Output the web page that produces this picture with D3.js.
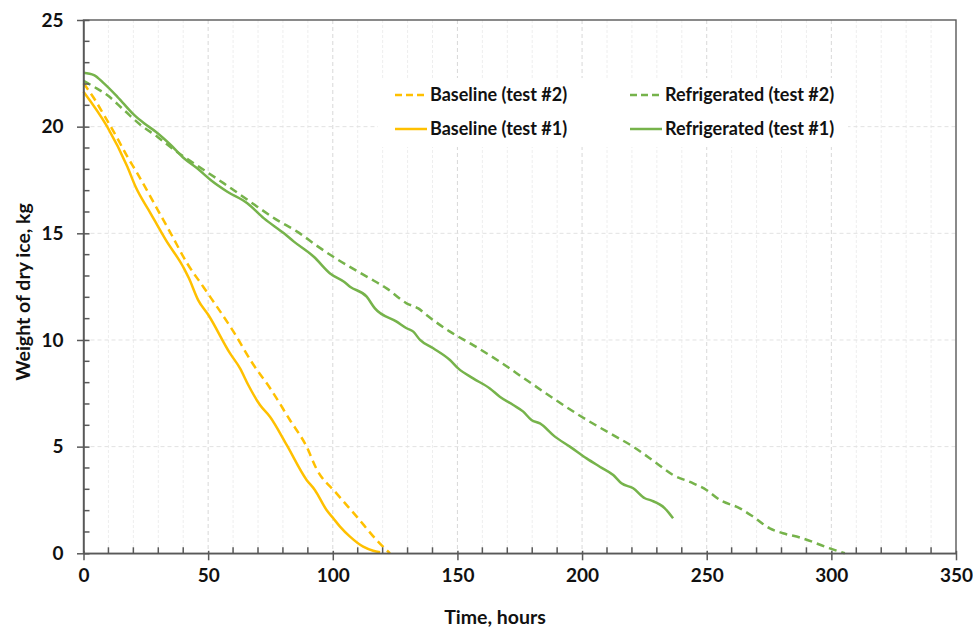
<!DOCTYPE html>
<html>
<head>
<meta charset="utf-8">
<script src="https://cdn.jsdelivr.net/npm/d3@7"></script>
<style>
  html, body { margin: 0; padding: 0; background: #fff; }
  svg { display: block; font-family: Lato, "Open Sans", sans-serif; font-weight: 700; }
</style>
</head>
<body>
<svg id="chart" width="973" height="628"></svg>
<script>
// Dry-ice sublimation: weight over time, two baseline and two refrigerated tests
const baselineTest1Hours = [0, 9.5, 17.6, 20.9, 26.9, 33, 40.3, 42.3, 46, 50.1, 58.8, 62.8, 66.1, 70.8, 74.8, 81.5, 89.5, 92.8, 97.5, 100.2, 102.9, 106.9, 112.2, 116.2, 119];
const baselineTest1Weight = [21.64, 20.0, 18.12, 17.18, 15.94, 14.69, 13.36, 12.89, 11.87, 11.17, 9.37, 8.67, 7.89, 6.95, 6.4, 5.08, 3.44, 2.97, 2.03, 1.64, 1.25, 0.78, 0.31, 0.12, 0.05];

const baselineTest2Hours = [0, 4.2, 8.2, 13.6, 17.6, 21.6, 28.3, 35.0, 41.6, 48.3, 60.1, 68.1, 74.8, 82.8, 89.5, 93.5, 101.5, 109.6, 117.6, 122.9];
const baselineTest2Weight = [22.03, 21.33, 20.55, 19.45, 18.59, 17.81, 16.41, 15.0, 13.59, 12.45, 10.4, 8.85, 7.75, 6.25, 5.0, 3.95, 2.81, 1.72, 0.62, 0];

const refrigTest1Hours = [0, 4.2, 8.2, 13.6, 20.3, 24.3, 29.0, 35.0, 40.3, 45.6, 51.0, 57.7, 65.7, 72.4, 80.4, 84.4, 92.4, 98.9, 104.5, 106.9, 113.6, 116.9, 125.6, 129.6, 132.3, 135.0, 140.3, 147.0, 150.3, 156.3, 163.0, 167.0, 172.4, 176.4, 179.7, 183.1, 189.1, 195.1, 201.8, 207.1, 212.5, 215.8, 220.5, 225.2, 227.9, 233.2, 236.5];
const refrigTest1Weight = [22.53, 22.42, 22.03, 21.4, 20.55, 20.16, 19.76, 19.14, 18.52, 18.05, 17.5, 16.95, 16.41, 15.7, 15.0, 14.61, 13.9, 13.12, 12.73, 12.5, 12.03, 11.48, 10.86, 10.55, 10.39, 10.0, 9.61, 9.06, 8.67, 8.2, 7.73, 7.34, 6.95, 6.64, 6.25, 6.09, 5.47, 5.0, 4.45, 4.06, 3.67, 3.28, 3.05, 2.58, 2.47, 2.11, 1.64];

const refrigTest2Hours = [0, 4.2, 9.5, 16.2, 22.9, 29.6, 35.6, 40.3, 48.3, 56.3, 63.0, 69.7, 77.7, 85.7, 93.8, 100.2, 113.6, 121.6, 129.6, 134.3, 137.6, 147.0, 156.3, 167.0, 177.7, 188.4, 199.8, 211.1, 220.5, 229.9, 236.5, 244.6, 249.9, 255.3, 263.3, 268.6, 275.3, 280.6, 287.4, 299.4, 305.4];
const refrigTest2Weight = [22.15, 21.87, 21.48, 20.78, 20.08, 19.53, 18.98, 18.59, 17.97, 17.34, 16.8, 16.25, 15.62, 15.08, 14.4, 13.9, 12.97, 12.42, 11.72, 11.48, 11.17, 10.39, 9.76, 8.98, 8.12, 7.27, 6.4, 5.63, 5.0, 4.22, 3.67, 3.28, 2.97, 2.5, 2.11, 1.72, 1.17, 0.94, 0.74, 0.23, 0];

const xTicks = [0, 50, 100, 150, 200, 250, 300, 350];
const yTicks = [0, 5, 10, 15, 20, 25];
const xTitle = "Time, hours";
const yTitle = "Weight of dry ice, kg";

const ORANGE = "#FFC000";
const GREEN = "#76B34B";
const AXIS = "#595959";
const TEXT = "#111";

const series = [
  { name: "Baseline (test #2)", hours: baselineTest2Hours, weight: baselineTest2Weight, color: ORANGE, dashed: true },
  { name: "Refrigerated (test #2)", hours: refrigTest2Hours, weight: refrigTest2Weight, color: GREEN, dashed: true },
  { name: "Baseline (test #1)", hours: baselineTest1Hours, weight: baselineTest1Weight, color: ORANGE, dashed: false },
  { name: "Refrigerated (test #1)", hours: refrigTest1Hours, weight: refrigTest1Weight, color: GREEN, dashed: false }
];

const plot = { left: 83.5, right: 956, top: 20, bottom: 553.3 };
const x = d3.scaleLinear().domain([0, 350]).range([plot.left, plot.right]);
const y = d3.scaleLinear().domain([0, 25]).range([plot.bottom, plot.top]);

const svg = d3.select("#chart");

// gridlines
const grid = svg.append("g");
grid.selectAll("line.vminor").data(d3.range(10, 350, 10).filter(v => v % 50 !== 0)).join("line")
  .attr("x1", d => x(d)).attr("x2", d => x(d)).attr("y1", plot.top).attr("y2", plot.bottom)
  .attr("stroke", "#EEEEEE").attr("stroke-width", 1).attr("stroke-dasharray", "3,2");
grid.selectAll("line.vmajor").data(xTicks.slice(1, -1)).join("line")
  .attr("x1", d => x(d)).attr("x2", d => x(d)).attr("y1", plot.top).attr("y2", plot.bottom)
  .attr("stroke", "#D9D9D9").attr("stroke-width", 1).attr("stroke-dasharray", "4,3");
grid.selectAll("line.h").data(yTicks.slice(1, -1)).join("line")
  .attr("x1", plot.left).attr("x2", plot.right).attr("y1", d => y(d)).attr("y2", d => y(d))
  .attr("stroke", "#E2E2E2").attr("stroke-width", 1).attr("stroke-dasharray", "4,3");

// legend background covers the grid
const legend = svg.append("g");
legend.append("rect").attr("x", 378).attr("y", 78).attr("width", 470).attr("height", 69).attr("fill", "#fff");

// series lines
const line = d3.line().x(d => x(d[0])).y(d => y(d[1])).curve(d3.curveMonotoneX);
const order = [series[1], series[3], series[0], series[2]];
svg.append("g").selectAll("path").data(order).join("path")
  .attr("d", s => line(s.hours.map((h, i) => [h, s.weight[i]])))
  .attr("fill", "none")
  .attr("stroke", s => s.color)
  .attr("stroke-width", 2.5)
  .attr("stroke-linejoin", "round")
  .attr("stroke-dasharray", s => s.dashed ? "8,5" : null);

// frame
svg.append("rect").attr("x", plot.left).attr("y", plot.top)
  .attr("width", plot.right - plot.left).attr("height", plot.bottom - plot.top)
  .attr("fill", "none").attr("stroke", AXIS).attr("stroke-width", 1.4);

// y axis
const yAxis = svg.append("g").attr("transform", `translate(${plot.left},0)`)
  .call(d3.axisLeft(y).tickValues(yTicks).tickSize(0).tickPadding(20));
yAxis.select(".domain").attr("stroke", AXIS).attr("stroke-width", 1.5);
yAxis.selectAll(".tick text").attr("font-size", 19).attr("font-family", "Lato, sans-serif").attr("font-weight", 700).attr("fill", TEXT);
yAxis.selectAll(".tick").append("line").attr("x1", -6.5).attr("x2", 6).attr("stroke", AXIS).attr("stroke-width", 1.5);
svg.append("g").selectAll("line").data(d3.range(1, 25).filter(v => v % 5 !== 0)).join("line")
  .attr("x1", plot.left).attr("x2", plot.left + 6).attr("y1", d => y(d)).attr("y2", d => y(d))
  .attr("stroke", AXIS).attr("stroke-width", 1.5);

// x axis
const xAxis = svg.append("g").attr("transform", `translate(0,${plot.bottom})`)
  .call(d3.axisBottom(x).tickValues(xTicks).tickSize(0).tickPadding(15));
xAxis.select(".domain").attr("stroke", AXIS).attr("stroke-width", 1.5);
xAxis.selectAll(".tick text").attr("font-size", 19).attr("font-family", "Lato, sans-serif").attr("font-weight", 700).attr("fill", TEXT);
xAxis.selectAll(".tick").append("line").attr("y1", -2.5).attr("y2", 7).attr("stroke", AXIS).attr("stroke-width", 1.5);
svg.append("g").selectAll("line").data(d3.range(10, 350, 10).filter(v => v % 50 !== 0)).join("line")
  .attr("x1", d => x(d)).attr("x2", d => x(d)).attr("y1", plot.bottom - 6).attr("y2", plot.bottom)
  .attr("stroke", AXIS).attr("stroke-width", 1.5);

// axis titles
svg.append("text").attr("x", 495).attr("y", 624).attr("text-anchor", "middle")
  .attr("font-size", 19.5).attr("fill", TEXT).text(xTitle);
svg.append("text").attr("transform", "translate(30,292) rotate(-90)").attr("text-anchor", "middle")
  .attr("font-size", 19.5).attr("fill", TEXT).text(yTitle);

// legend entries
const legendPos = [
  { s: series[0], lx: 395, ly: 95 },
  { s: series[1], lx: 630, ly: 95 },
  { s: series[2], lx: 395, ly: 129 },
  { s: series[3], lx: 630, ly: 129 }
];
const entry = legend.selectAll("g.entry").data(legendPos).join("g").attr("class", "entry");
entry.append("line")
  .attr("x1", d => d.lx).attr("x2", d => d.lx + 32).attr("y1", d => d.ly).attr("y2", d => d.ly)
  .attr("stroke", d => d.s.color).attr("stroke-width", 2.5)
  .attr("stroke-dasharray", d => d.s.dashed ? "7,4" : null);
entry.append("text")
  .attr("x", d => d.lx + 35).attr("y", d => d.ly).attr("dy", "0.35em")
  .attr("font-size", 18).attr("fill", TEXT).text(d => d.s.name);
</script>
</body>
</html>
